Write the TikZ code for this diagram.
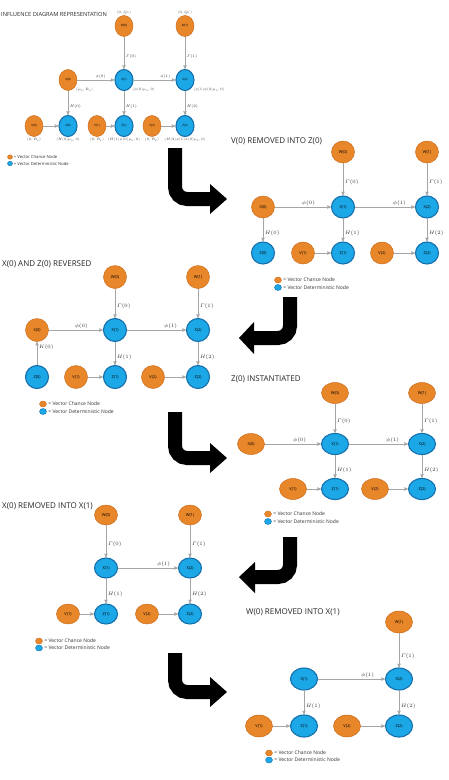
\RequirePackage{fix-cm}
\documentclass[tikz,border=0pt]{standalone}
\usepackage{amsmath}
\usepackage{fontspec}
\setmainfont{Open Sans}
\usetikzlibrary{arrows}
\usetikzlibrary{shapes.geometric}
\definecolor{chanceorange}{RGB}{232,134,42}
\definecolor{chanceedge}{RGB}{205,110,30}
\definecolor{detblue}{RGB}{28,168,230}
\definecolor{detedge}{RGB}{22,112,172}
\definecolor{linkgray}{RGB}{165,165,165}

\begin{document}
\begin{tikzpicture}[>=stealth',x=1pt,y=-1pt]
		\tikzstyle{nodesize}=[minimum width=23pt,minimum height=22pt];
		\tikzstyle{nodetext}=[font=\fontsize{4}{4}\selectfont];
		\tikzstyle{chance}=[ellipse,nodesize,nodetext,inner sep=0pt,fill=chanceorange,draw=chanceedge,line width=0.5pt];
		\tikzstyle{det}=[ellipse,nodesize,nodetext,inner sep=0pt,fill=detblue,draw=detedge,line width=1.1pt];
		\tikzstyle{lab}=[font=\fontsize{5}{5}\selectfont,inner sep=1.5pt,text=black!80];
		\tikzstyle{link}=[draw=linkgray,line width=0.5pt];
		\tikzstyle{title}=[anchor=west,inner sep=0pt,font=\fontsize{8}{8}\selectfont,text=black!85];
		\tikzstyle{keydot}=[ellipse,minimum width=7pt,minimum height=6pt,inner sep=0pt];
		\tikzstyle{keytext}=[font=\fontsize{5}{5}\selectfont,inner sep=1.5pt,text=black!80];
		\tikzstyle{bigshaft}=[line width=14pt,rounded corners=12pt];
		\useasboundingbox(0,0)rectangle(449,780);

		% influence diagram
		\begin{scope}[nodesize/.style={minimum width=18pt,minimum height=21pt},
			nodetext/.style={font=\fontsize{3}{3}\selectfont},
			lab/.style={font=\fontsize{3.8}{4}\selectfont,inner sep=1.5pt,text=black!80},
			keytext/.style={font=\fontsize{4.2}{4.5}\selectfont,inner sep=1pt,text=black!80},
			every label/.style={font=\fontsize{3.4}{4}\selectfont,inner sep=1pt,text=black!80}]
		\node[title,font=\fontsize{5.7}{6}\selectfont](atitle)at(1,14){INFLUENCE DIAGRAM REPRESENTATION};
		\node[chance,label=above:{$(0,Q_0)$}](aw0)at(124,26){W(0)};
		\node[chance,label=above:{$(0,Q_1)$}](aw1)at(185,26){W(1)};
		\node[chance,label={below right:$(\mu_0,R_0)$}](ax0)at(68,80){X(0)};
		\node[det,label={below right:$(\phi(0)\mu_0,0)$}](ax1)at(124,80){X(1)}
			edge[link,<-]node[lab,right,pos=.4]{$\varGamma(0)$}(aw0)
			edge[link,<-]node[lab,above,pos=.37]{$\phi(0)$}(ax0);
		\node[det,label={below right:$(\phi(1)\phi(0)\mu_0,0)$}](ax2)at(185,80){X(2)}
			edge[link,<-]node[lab,right,pos=.4]{$\varGamma(1)$}(aw1)
			edge[link,<-]node[lab,above,pos=.24]{$\phi(1)$}(ax1);
		\node[chance,label=below:{$(0,R_0)$}](av0)at(34,126){V(0)};
		\node[det,label=below:{$(H(0)\mu_0,0)$}](az0)at(68,126){Z(0)}
			edge[link,<-]node[lab,right,pos=.35]{$H(0)$}(ax0)edge[link,<-](av0);
		\node[chance,label=below:{$(0,R_1)$}](av1)at(97,126){V(1)};
		\node[det,label=below:{$(H(1)\phi(0)\mu_0,0)$}](az1)at(124,126){Z(1)}
			edge[link,<-]node[lab,right,pos=.35]{$H(1)$}(ax1)edge[link,<-](av1);
		\node[chance,label=below:{$(0,R_2)$}](av2)at(152,126){V(2)};
		\node[det,label=below:{$(H(2)\phi(1)\phi(0)\mu_0,0)$}](az2)at(185,126){Z(2)}
			edge[link,<-]node[lab,right,pos=.35]{$H(2)$}(ax2)edge[link,<-](av2);
		\node[keydot,minimum width=5pt,minimum height=4.5pt,fill=chanceorange,draw=chanceedge,label={[keytext]right:= Vector Chance Node}](akey1)at(10,157){};
		\node[keydot,minimum width=5pt,minimum height=4.5pt,fill=detblue,draw=detedge,label={[keytext]right:= Vector Deterministic Node}](akey2)at(10,163.5){};
		\end{scope}

		% V(0) removed
		\node[title](btitle)at(231,141){V(0) REMOVED INTO Z(0)};
		\node[chance](bw0)at(343,152){W(0)};
		\node[chance](bw1)at(427,152){W(1)};
		\node[chance](bx0)at(263,207){X(0)};
		\node[det](bx1)at(343,207){X(1)}
			edge[link,<-]node[lab,right,pos=.4]{$\varGamma(0)$}(bw0)
			edge[link,<-]node[lab,above,pos=.4]{$\phi(0)$}(bx0);
		\node[det](bx2)at(427,207){X(2)}
			edge[link,<-]node[lab,right,pos=.4]{$\varGamma(1)$}(bw1)
			edge[link,<-]node[lab,above,pos=.26]{$\phi(1)$}(bx1);
		\node[det](bz0)at(263,253){Z(0)}
			edge[link,<-]node[lab,right,pos=.35]{$H(0)$}(bx0);
		\node[chance](bv1)at(303,253){V(1)};
		\node[det](bz1)at(343,253){Z(1)}
			edge[link,<-]node[lab,right,pos=.35]{$H(1)$}(bx1)edge[link,<-](bv1);
		\node[chance](bv2)at(382,253){V(2)};
		\node[det](bz2)at(427,253){Z(2)}
			edge[link,<-]node[lab,right,pos=.35]{$H(2)$}(bx2)edge[link,<-](bv2);
		\node[keydot,fill=chanceorange,draw=chanceedge,label={[keytext]right:= Vector Chance Node}](bkey1)at(278,280){};
		\node[keydot,fill=detblue,draw=detedge,label={[keytext]right:= Vector Deterministic Node}](bkey2)at(278,287.5){};

		% X(0) and Z(0) reversed
		\begin{scope}[nodesize/.style={minimum width=23pt,minimum height=23pt}]
		\node[title](ctitle)at(2,264){X(0) AND Z(0) REVERSED};
		\node[chance](cw0)at(115,277){W(0)};
		\node[chance](cw1)at(198,277){W(1)};
		\node[det](cz0)at(37,377){Z(0)};
		\node[chance](cx0)at(37,330){X(0)}
			edge[link,<-]node[lab,right,pos=.23]{$K(0)$}(cz0);
		\node[det](cx1)at(115,330){X(1)}
			edge[link,<-]node[lab,right,pos=.4]{$\varGamma(0)$}(cw0)
			edge[link,<-]node[lab,above,pos=.4]{$\phi(0)$}(cx0);
		\node[det](cx2)at(198,330){X(2)}
			edge[link,<-]node[lab,right,pos=.4]{$\varGamma(1)$}(cw1)
			edge[link,<-]node[lab,above,pos=.26]{$\phi(1)$}(cx1);
		\node[chance](cv1)at(76,377){V(1)};
		\node[det](cz1)at(115,377){Z(1)}
			edge[link,<-]node[lab,right,pos=.35]{$H(1)$}(cx1)edge[link,<-](cv1);
		\node[chance](cv2)at(153,377){V(2)};
		\node[det](cz2)at(198,377){Z(2)}
			edge[link,<-]node[lab,right,pos=.35]{$H(2)$}(cx2)edge[link,<-](cv2);
		\node[keydot,fill=chanceorange,draw=chanceedge,label={[keytext]right:= Vector Chance Node}](ckey1)at(43,404){};
		\node[keydot,fill=detblue,draw=detedge,label={[keytext]right:= Vector Deterministic Node}](ckey2)at(43,411.5){};
		\end{scope}

		% Z(0) instantiated
		\begin{scope}[nodesize/.style={minimum width=27pt,minimum height=21pt}]
		\node[title](dtitle)at(231,379){Z(0) INSTANTIATED};
		\node[chance](dw0)at(335,393){W(0)};
		\node[chance](dw1)at(422,393){W(1)};
		\node[chance](dx0)at(251,444){X(0)};
		\node[det](dx1)at(335,444){X(1)}
			edge[link,<-]node[lab,right,pos=.4]{$\varGamma(0)$}(dw0)
			edge[link,<-]node[lab,above,pos=.38]{$\phi(0)$}(dx0);
		\node[det](dx2)at(422,444){X(2)}
			edge[link,<-]node[lab,right,pos=.4]{$\varGamma(1)$}(dw1)
			edge[link,<-]node[lab,above,pos=.26]{$\phi(1)$}(dx1);
		\node[chance](dv1)at(293,489){V(1)};
		\node[det](dz1)at(335,489){Z(1)}
			edge[link,<-]node[lab,right,pos=.35]{$H(1)$}(dx1)edge[link,<-](dv1);
		\node[chance](dv2)at(375,489){V(2)};
		\node[det](dz2)at(422,489){Z(2)}
			edge[link,<-]node[lab,right,pos=.35]{$H(2)$}(dx2)edge[link,<-](dv2);
		\node[keydot,fill=chanceorange,draw=chanceedge,label={[keytext]right:= Vector Chance Node}](dkey1)at(268,514){};
		\node[keydot,fill=detblue,draw=detedge,label={[keytext]right:= Vector Deterministic Node}](dkey2)at(268,521.5){};
		\end{scope}

		% X(0) removed
		\begin{scope}[nodesize/.style={minimum width=23pt,minimum height=20pt}]
		\node[title](etitle)at(2,506){X(0) REMOVED INTO X(1)};
		\node[chance](ew0)at(106,515){W(0)};
		\node[chance](ew1)at(190,515){W(1)};
		\node[det](ex1)at(106,568){X(1)}
			edge[link,<-]node[lab,right,pos=.4]{$\varGamma(0)$}(ew0);
		\node[det](ex2)at(190,568){X(2)}
			edge[link,<-]node[lab,right,pos=.4]{$\varGamma(1)$}(ew1)
			edge[link,<-]node[lab,above,pos=.24]{$\phi(1)$}(ex1);
		\node[chance](ev1)at(68,614){V(1)};
		\node[det](ez1)at(106,614){Z(1)}
			edge[link,<-]node[lab,right,pos=.35]{$H(1)$}(ex1)edge[link,<-](ev1);
		\node[chance](ev2)at(147,614){V(2)};
		\node[det](ez2)at(190,614){Z(2)}
			edge[link,<-]node[lab,right,pos=.35]{$H(2)$}(ex2)edge[link,<-](ev2);
		\node[keydot,fill=chanceorange,draw=chanceedge,label={[keytext]right:= Vector Chance Node}](ekey1)at(39,641){};
		\node[keydot,fill=detblue,draw=detedge,label={[keytext]right:= Vector Deterministic Node}](ekey2)at(39,648){};
		\end{scope}

		% W(0) removed
		\begin{scope}[nodesize/.style={minimum width=27pt,minimum height=22pt}]
		\node[title](ftitle)at(246,612){W(0) REMOVED INTO X(1)};
		\node[chance](fw1)at(399,622){W(1)};
		\node[det](fx1)at(304,679){X(1)};
		\node[det](fx2)at(399,679){X(2)}
			edge[link,<-]node[lab,right,pos=.33]{$\varGamma(1)$}(fw1)
			edge[link,<-]node[lab,above,pos=.26]{$\phi(1)$}(fx1);
		\node[chance](fv1)at(259,726){V(1)};
		\node[det](fz1)at(304,726){Z(1)}
			edge[link,<-]node[lab,right,pos=.35]{$H(1)$}(fx1)edge[link,<-](fv1);
		\node[chance](fv2)at(347,726){V(2)};
		\node[det](fz2)at(399,726){Z(2)}
			edge[link,<-]node[lab,right,pos=.35]{$H(2)$}(fx2)edge[link,<-](fv2);
		\node[keydot,fill=chanceorange,draw=chanceedge,label={[keytext]right:= Vector Chance Node}](fkey1)at(269,753){};
		\node[keydot,fill=detblue,draw=detedge,label={[keytext]right:= Vector Deterministic Node}](fkey2)at(269,760){};
		\end{scope}

		% big bent arrows
		\draw[bigshaft](175,148)--(175,199)--(211,199);
		\fill(210,184)--(227,199)--(210,214)--cycle;
		\draw[bigshaft](290,297)--(290,338)--(253,338);
		\fill(254,322)--(239,338)--(254,354)--cycle;
		\draw[bigshaft](175,412)--(175,458)--(211,458);
		\fill(210,443)--(227,458)--(210,473)--cycle;
		\draw[bigshaft](290,537)--(290,577)--(254,577);
		\fill(255,562)--(239,577)--(255,593)--cycle;
		\draw[bigshaft](175,653)--(175,692)--(211,692);
		\fill(210,677)--(227,692)--(210,707)--cycle;
	\end{tikzpicture}
\end{document}
